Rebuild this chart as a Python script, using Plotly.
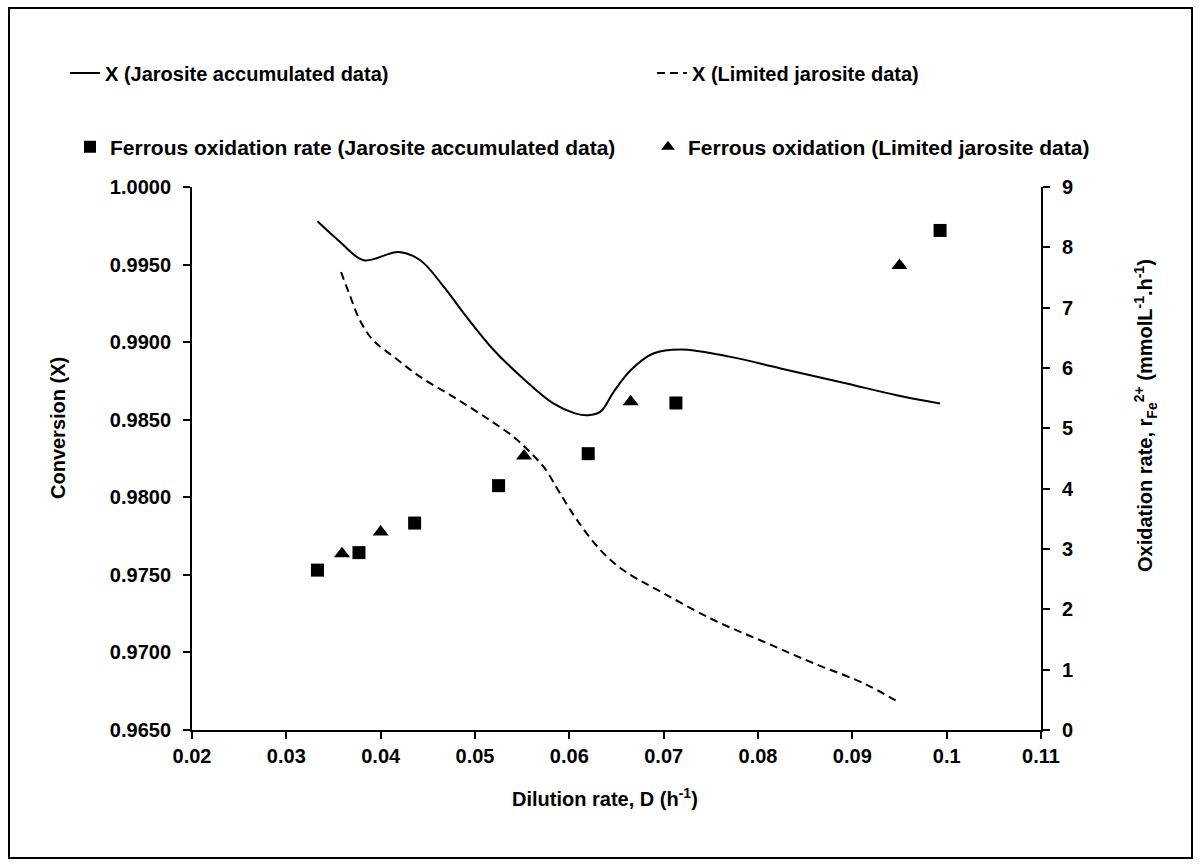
import plotly.graph_objects as go

# ---- data ----
d_acc_line = [0.0333, 0.0357, 0.0382, 0.0419, 0.0442, 0.0467, 0.0491, 0.0520, 0.0551,
              0.0583, 0.0606, 0.0620, 0.0633, 0.0647, 0.0665, 0.0689, 0.0718, 0.0771,
              0.0824, 0.0894, 0.0947, 0.0993]
x_acc_line = [0.99779, 0.99646, 0.99528, 0.99581, 0.99528, 0.99356, 0.99163, 0.98948, 0.98766,
              0.98605, 0.98541, 0.98529, 0.98552, 0.98680, 0.98819, 0.98927, 0.98953, 0.98905,
              0.98830, 0.98733, 0.98658, 0.98605]

d_lim_line = [0.0358, 0.0368, 0.0378, 0.0392, 0.0414, 0.0442, 0.0477, 0.0513, 0.0541,
              0.0558, 0.0574, 0.0590, 0.0609, 0.0633, 0.0657, 0.0700, 0.0753,
              0.0806, 0.0859, 0.0912, 0.0950]
x_lim_line = [0.99452, 0.99291, 0.99141, 0.99012, 0.98905, 0.98776, 0.98647, 0.98508, 0.98389,
              0.98293, 0.98186, 0.98027, 0.97846, 0.97660, 0.97531, 0.97381, 0.97209,
              0.97069, 0.96930, 0.96801, 0.96676]

d_acc_pts = [0.0333, 0.0377, 0.0436, 0.0525, 0.0620, 0.0713, 0.0993]
r_acc_pts = [2.65, 2.94, 3.43, 4.05, 4.58, 5.42, 8.28]

d_lim_pts = [0.0359, 0.0400, 0.0552, 0.0665, 0.0950]
r_lim_pts = [2.92, 3.28, 4.54, 5.44, 7.70]

x_ticks = [0.02, 0.03, 0.04, 0.05, 0.06, 0.07, 0.08, 0.09, 0.10, 0.11]
x_tick_labels = ["0.02", "0.03", "0.04", "0.05", "0.06", "0.07", "0.08", "0.09", "0.1", "0.11"]

names = ["X (Jarosite accumulated data)", "X (Limited jarosite data)",
         "Ferrous oxidation rate (Jarosite accumulated data)",
         "Ferrous oxidation (Limited jarosite data)"]

FONT = "Liberation Sans, Arial, sans-serif"
FS = 20

fig = go.Figure()
fig.add_trace(go.Scatter(x=d_acc_line, y=x_acc_line, mode="lines", name=names[0],
                         line=dict(color="black", width=2, shape="spline", smoothing=1.0),
                         legend="legend", legendwidth=542))
fig.add_trace(go.Scatter(x=d_lim_line, y=x_lim_line, mode="lines", name=names[1],
                         line=dict(color="black", width=2, dash="8px,5px", shape="spline", smoothing=1.0),
                         legend="legend"))
fig.add_trace(go.Scatter(x=d_acc_pts, y=r_acc_pts, mode="markers", name=names[2], yaxis="y2",
                         marker=dict(symbol="square", size=13, color="black"),
                         legend="legend2", legendwidth=533))
fig.add_trace(go.Scatter(x=d_lim_pts, y=r_lim_pts, mode="markers", name=names[3], yaxis="y2",
                         marker=dict(symbol="triangle-up", size=14, color="black"),
                         legend="legend2"))

L, R, T, B = 192, 160, 187, 136
W, H = 1201, 866
pw, ph = W - L - R, H - T - B


def px_x(p):
    return (p - L) / pw


def px_y(p):
    return (H - B - p) / ph


axis_common = dict(showline=True, linecolor="black", linewidth=2, ticks="outside",
                   ticklen=7, tickwidth=2, tickcolor="black", showgrid=False, zeroline=False,
                   tickfont=dict(family=FONT, size=FS, color="black", weight="bold"))

fig.update_layout(
    width=W, height=H,
    margin=dict(l=L, r=R, t=T, b=B),
    paper_bgcolor="white", plot_bgcolor="white",
    font=dict(family=FONT, size=FS, color="black", weight="bold"),
    xaxis=dict(range=[0.02, 0.11], tickvals=x_ticks, ticktext=x_tick_labels, **axis_common),
    yaxis=dict(range=[0.965, 1.0], dtick=0.005, tick0=0.965, tickformat=".4f",
               ticklabelstandoff=8, **axis_common),
    yaxis2=dict(range=[0, 9], dtick=1, overlaying="y", side="right",
                ticklabelstandoff=8, **axis_common),
    legend=dict(orientation="h", x=px_x(65), y=px_y(73), xanchor="left", yanchor="middle",
                bgcolor="rgba(0,0,0,0)", font=dict(family=FONT, size=FS, color="black", weight="bold")),
    legend2=dict(orientation="h", x=px_x(70), y=px_y(147), xanchor="left", yanchor="middle",
                 itemsizing="constant",
                 bgcolor="rgba(0,0,0,0)", font=dict(family=FONT, size=21, color="black", weight="bold")),
    shapes=[dict(type="rect", xref="paper", yref="paper",
                 x0=px_x(9), x1=px_x(1192), y0=px_y(858), y1=px_y(8),
                 line=dict(color="black", width=2), fillcolor="rgba(0,0,0,0)")],
    annotations=[
        dict(text="Dilution rate, D (h<sup>-1</sup>)", xref="paper", yref="paper",
             x=px_x(605), y=px_y(797), showarrow=False, xanchor="center", yanchor="middle",
             font=dict(family=FONT, size=FS, color="black", weight="bold")),
        dict(text="Conversion (X)", xref="paper", yref="paper", textangle=-90,
             x=px_x(58), y=px_y(428), showarrow=False, xanchor="center", yanchor="middle",
             font=dict(family=FONT, size=FS, color="black", weight="bold")),
        dict(text="Oxidation rate, r<sub>Fe</sub><sup>2+</sup> (mmolL<sup>-1</sup>.h<sup>-1</sup>)",
             xref="paper", yref="paper", textangle=-90,
             x=px_x(1145), y=px_y(416), showarrow=False, xanchor="center", yanchor="middle",
             font=dict(family=FONT, size=FS, color="black", weight="bold")),
    ],
)

fig.write_html("out.html")
